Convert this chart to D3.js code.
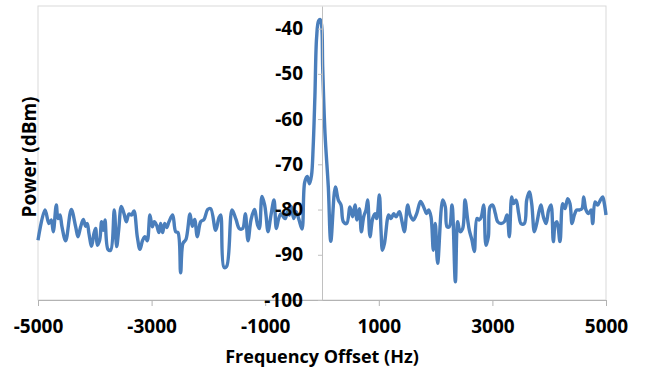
<!DOCTYPE html>
<html>
<head>
<meta charset="utf-8">
<script src="https://cdn.jsdelivr.net/npm/d3@7"></script>
<style>
  body { margin: 0; background: #fff; }
  svg { display: block; font-family: "Open Sans", "Liberation Sans", sans-serif; font-weight: 700; }
</style>
</head>
<body>
<svg id="chart" width="655" height="372"></svg>
<script>
// spectrum trace (Hz, dBm)
const freqHz = [
  -5000, -4877, -4807, -4766, -4731, -4678, -4648, -4613, -4578, -4513,
  -4414, -4337, -4296, -4249, -4202, -4161, -4132, -4103, -4056, -4015,
  -3985, -3956, -3915, -3880, -3850, -3821, -3768, -3721, -3657, -3615,
  -3580, -3533, -3486, -3445, -3398, -3351, -3310, -3252, -3205, -3158,
  -3117, -3076, -3029, -2988, -2952, -2911, -2870, -2841, -2806, -2770,
  -2735, -2694, -2629, -2577, -2536, -2489, -2448, -2395, -2324, -2283,
  -2242, -2195, -2136, -2078, -2013, -1960, -1872, -1814, -1784, -1726,
  -1679, -1584, -1514, -1455, -1397, -1350, -1303, -1250, -1191, -1132,
  -1103, -1056, -1009, -986, -950, -898, -845, -804, -763, -722,
  -681, -645, -610, -575, -540, -499, -457, -411, -352, -305,
  -260, -220, -185, -155, -125, -95, -60, -30, -5, 12,
  53, 111, 155, 235, 288, 335, 376, 435, 493, 540,
  581, 616, 658, 693, 734, 775, 804, 845, 892, 933,
  963, 1010, 1039, 1065, 1100, 1174, 1215, 1262, 1303, 1362,
  1409, 1450, 1509, 1550, 1608, 1667, 1735, 1802, 1843, 1878,
  1919, 1960, 1995, 2036, 2125, 2171, 2201, 2242, 2289, 2348,
  2389, 2430, 2477, 2518, 2565, 2594, 2641, 2682, 2729, 2770,
  2805, 2846, 2887, 2929, 2958, 3005, 3052, 3093, 3152, 3210,
  3257, 3298, 3339, 3369, 3416, 3463, 3504, 3563, 3604, 3650,
  3692, 3739, 3780, 3827, 3856, 3897, 3944, 3991, 4032, 4073,
  4108, 4138, 4190, 4237, 4278, 4325, 4366, 4402, 4443, 4484,
  4531, 4578, 4607, 4648, 4695, 4736, 4766, 4807, 4854, 4901,
  4942, 4971, 5000
];
const powerDbm = [
  -86.8, -80.1, -83.1, -82.3, -84.9, -79.0, -82.0, -81.2, -83.8, -86.9,
  -80.0, -83.8, -86.0, -83.8, -82.2, -83.7, -83.1, -85.3, -88.1, -85.3,
  -84.2, -87.9, -86.8, -82.7, -84.6, -82.3, -88.8, -89.0, -80.1, -88.2,
  -84.6, -79.3, -80.9, -82.7, -81.0, -81.2, -80.3, -86.0, -88.8, -86.8,
  -86.0, -86.9, -81.2, -83.8, -82.7, -83.5, -85.1, -83.1, -85.1, -83.1,
  -84.0, -82.7, -81.2, -84.9, -85.1, -94.0, -87.5, -86.6, -81.0, -83.7,
  -82.2, -86.0, -82.7, -82.2, -80.0, -79.8, -84.6, -81.8, -81.2, -92.8,
  -92.6, -80.1, -82.2, -84.2, -84.2, -80.9, -86.9, -82.3, -80.0, -83.5,
  -84.2, -77.1, -79.0, -81.2, -84.9, -81.2, -77.9, -84.2, -82.0, -80.9,
  -81.6, -82.0, -80.5, -81.2, -79.3, -82.0, -80.5, -82.0, -84.3, -74.0,
  -72.7, -74.3, -72.5, -66.0, -55.0, -42.0, -38.3, -38.0, -39.5, -48.5,
  -63.2, -75.0, -87.0, -75.0, -77.9, -79.0, -82.7, -83.1, -79.4, -81.6,
  -79.0, -82.3, -79.8, -84.9, -81.6, -80.1, -77.9, -86.0, -82.0, -80.9,
  -82.0, -76.8, -84.6, -89.0, -87.5, -81.2, -82.0, -80.9, -81.6, -80.5,
  -82.7, -84.9, -79.0, -81.2, -82.3, -80.9, -78.2, -79.8, -80.9, -80.1,
  -81.6, -89.0, -83.1, -91.9, -77.9, -79.4, -83.8, -83.8, -79.0, -96.0,
  -82.7, -84.9, -84.2, -77.9, -82.3, -84.6, -86.8, -89.3, -82.0, -82.3,
  -81.6, -79.0, -87.9, -86.0, -79.4, -79.0, -80.9, -82.7, -83.1, -82.7,
  -81.2, -86.0, -77.2, -78.7, -77.9, -80.9, -83.1, -83.1, -77.9, -76.1,
  -78.7, -84.9, -83.1, -80.1, -79.0, -81.6, -83.1, -80.1, -79.0, -87.1,
  -83.1, -82.7, -87.1, -78.7, -79.8, -77.6, -78.7, -83.1, -81.2, -80.1,
  -80.1, -79.8, -77.2, -80.1, -80.9, -80.1, -83.1, -78.3, -79.0, -77.9,
  -77.2, -78.7, -81.2
];
const xTicks = [-5000, -3000, -1000, 1000, 3000, 5000];
const yTicks = [-100, -90, -80, -70, -60, -50, -40];
const xTitle = 'Frequency Offset (Hz)';
const yTitle = 'Power (dBm)';

const margin = { top: 6, right: 49, bottom: 72, left: 38 };
const width = 655 - margin.left - margin.right;
const height = 372 - margin.top - margin.bottom;

// plain hyphen minus, like the original labels
const fmtTick = d => String(d);

const svg = d3.select('#chart');
const g = svg.append('g')
  .attr('transform', `translate(${margin.left},${margin.top})`);

const x = d3.scaleLinear().domain([-5000, 5000]).range([0, width]);
const y = d3.scaleLinear().domain([-100, -35]).range([height, 0]);

// plot area frame
g.append('rect')
  .attr('x', 0).attr('y', 0)
  .attr('width', width).attr('height', height)
  .attr('fill', 'none')
  .attr('stroke', '#d9d9d9');

const data = freqHz.map((f, i) => ({ f: f, p: powerDbm[i] }));

const line = d3.line()
  .x(d => x(d.f))
  .y(d => y(d.p))
  .curve(d3.curveCatmullRom.alpha(0.5));

g.append('path')
  .datum(data)
  .attr('fill', 'none')
  .attr('stroke', '#4a7ebb')
  .attr('stroke-width', 3.4)
  .attr('stroke-linejoin', 'round')
  .attr('d', line);

// x axis along the bottom
const xAxis = d3.axisBottom(x)
  .tickValues(xTicks)
  .tickFormat(fmtTick)
  .tickSizeInner(6)
  .tickSizeOuter(0)
  .tickPadding(14);

const xg = g.append('g')
  .attr('transform', `translate(0,${height})`)
  .call(xAxis);
xg.select('.domain').attr('stroke', '#b3b3b3');
xg.selectAll('.tick line').attr('stroke', '#b3b3b3');
xg.selectAll('.tick text')
  .attr('fill', '#000')
  .style('font-size', '19px')
  .style('font-family', '"Open Sans", sans-serif')
  .style('font-weight', 700);

// y axis crosses at 0 Hz
const yAxis = d3.axisLeft(y)
  .tickValues(yTicks)
  .tickFormat(fmtTick)
  .tickSizeInner(4)
  .tickSizeOuter(0)
  .tickPadding(15);

const yg = g.append('g')
  .attr('transform', `translate(${x(0)},0)`)
  .call(yAxis);
yg.select('.domain').attr('stroke', '#c0c0c0');
yg.selectAll('.tick line').attr('stroke', '#c0c0c0');
yg.selectAll('.tick text')
  .attr('fill', '#000')
  .style('font-size', '19px')
  .style('font-family', '"Open Sans", sans-serif')
  .style('font-weight', 700);

// axis titles
svg.append('text')
  .attr('x', margin.left + x(0))
  .attr('y', 363)
  .attr('text-anchor', 'middle')
  .attr('fill', '#000')
  .style('font-size', '18px')
  .text(xTitle);

svg.append('text')
  .attr('transform', 'translate(36,157) rotate(-90)')
  .attr('text-anchor', 'middle')
  .attr('fill', '#000')
  .style('font-size', '19px')
  .text(yTitle);
</script>
</body>
</html>
